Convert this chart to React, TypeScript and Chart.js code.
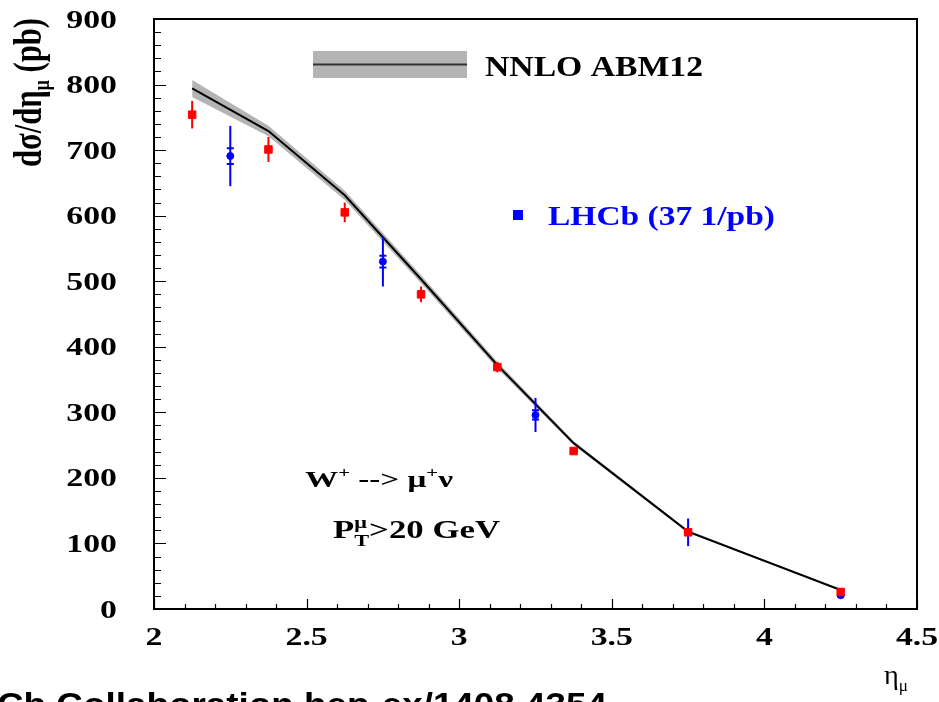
import React, { useEffect, useRef } from 'react';
import { Chart, registerables } from 'chart.js';

Chart.register(...registerables);

// ---- data ----
const theoryEta = [2.125, 2.375, 2.625, 2.875, 3.125, 3.375, 3.75, 4.25];
const theoryVal = [794, 729, 631, 503, 372, 253, 118, 29];
const theoryUnc = [13, 8, 7, 6, 5, 3, 2, 1];

const redEta = [2.125, 2.375, 2.625, 2.875, 3.125, 3.375, 3.75, 4.25];
const redVal = [754, 701, 605, 480, 369, 241, 117, 26];
const redErr = [21, 19, 15, 12, 8, 5, 5, 3];

const blueEta = [2.25, 2.75, 3.25, 3.75, 4.25];
const blueVal = [691, 530, 296, 117, 21];
const blueErrTot = [46, 38, 26, 21, 4];
const blueErrStat = [12, 9, 7, 4, 2];

const xTickValues = [2, 2.5, 3, 3.5, 4, 4.5];
const xTickLabels = ['2', '2.5', '3', '3.5', '4', '4.5'];
const yTickValues = [0, 100, 200, 300, 400, 500, 600, 700, 800, 900];
const yTickLabels = ['0', '100', '200', '300', '400', '500', '600', '700', '800', '900'];

const SERIF = "'Liberation Serif', 'Times New Roman', serif";
const SANS = "'Liberation Sans', Arial, sans-serif";

type Seg = { t: string; size: number; dy?: number; noAdvance?: boolean };

function drawRich(
  ctx: CanvasRenderingContext2D,
  segs: Seg[],
  family: string,
  weight: string,
  targetW: number,
  sy: number,
  color: string
) {
  const widths: number[] = [];
  let natural = 0;
  for (const s of segs) {
    ctx.font = `${weight} ${s.size}px ${family}`;
    const w = ctx.measureText(s.t).width;
    widths.push(w);
    if (!s.noAdvance) natural += w;
  }
  const sx = targetW / natural;
  ctx.save();
  ctx.scale(sx, sy);
  ctx.fillStyle = color;
  ctx.textAlign = 'left';
  ctx.textBaseline = 'alphabetic';
  let cx = 0;
  segs.forEach((s, i) => {
    ctx.font = `${weight} ${s.size}px ${family}`;
    ctx.fillText(s.t, cx, (s.dy || 0) / sy);
    if (!s.noAdvance) cx += widths[i];
  });
  ctx.restore();
}

function drawStretched(
  ctx: CanvasRenderingContext2D,
  s: string,
  x: number,
  y: number,
  font: string,
  sx: number,
  align: 'left' | 'center' | 'right',
  color = '#000'
) {
  ctx.save();
  ctx.font = font;
  ctx.textAlign = 'left';
  ctx.textBaseline = 'alphabetic';
  ctx.fillStyle = color;
  const w = ctx.measureText(s).width * sx;
  let x0 = x;
  if (align === 'center') x0 = x - w / 2;
  else if (align === 'right') x0 = x - w;
  ctx.translate(x0, y);
  ctx.scale(sx, 1);
  ctx.fillText(s, 0, 0);
  ctx.restore();
}

const errorBarPlugin = {
  id: 'errorBars',
  beforeDatasetDraw(chart: any, args: any) {
    const ds = chart.data.datasets[args.index];
    if (!ds.errTot) return;
    const ctx: CanvasRenderingContext2D = chart.ctx;
    const yS = chart.scales.y;
    ctx.save();
    ctx.strokeStyle = ds.borderColor;
    ctx.lineWidth = 2;
    args.meta.data.forEach((pt: any, i: number) => {
      const v = ds.data[i].y;
      const e = ds.errTot[i];
      const t = yS.getPixelForValue(v + e);
      const b = yS.getPixelForValue(v - e);
      ctx.beginPath();
      ctx.moveTo(pt.x, t);
      ctx.lineTo(pt.x, b);
      ctx.stroke();
      if (ds.errStat) {
        const s = ds.errStat[i];
        const ts = yS.getPixelForValue(v + s);
        const bs = yS.getPixelForValue(v - s);
        ctx.beginPath();
        ctx.moveTo(pt.x - 3.5, ts);
        ctx.lineTo(pt.x + 3.5, ts);
        ctx.moveTo(pt.x - 3.5, bs);
        ctx.lineTo(pt.x + 3.5, bs);
        ctx.stroke();
      }
    });
    ctx.restore();
  },
};

const decorPlugin = {
  id: 'decor',
  afterDraw(chart: any) {
    const ctx: CanvasRenderingContext2D = chart.ctx;
    const { left, right, top, bottom } = chart.chartArea;
    const xS = chart.scales.x;
    const yS = chart.scales.y;
    ctx.save();
    // frame
    ctx.strokeStyle = '#000';
    ctx.lineWidth = 2;
    ctx.strokeRect(left, top, right - left, bottom - top);
    // x ticks
    ctx.lineWidth = 1.2;
    ctx.beginPath();
    for (let k = 0; k <= 25; k++) {
      const v = 2 + k * 0.1;
      const px = Math.round(xS.getPixelForValue(v)) + 0.5;
      const len = k % 5 === 0 ? 10 : 5;
      ctx.moveTo(px, bottom);
      ctx.lineTo(px, bottom - len);
    }
    // y ticks
    for (let k = 0; k <= 45; k++) {
      const v = k * 20;
      const py = Math.round(yS.getPixelForValue(v)) + 0.5;
      const len = k % 5 === 0 ? 12 : 7;
      ctx.moveTo(left, py);
      ctx.lineTo(left + len, py);
    }
    ctx.stroke();

    // tick labels
    const tickFont = `bold 26px ${SERIF}`;
    yTickValues.forEach((v, i) => {
      drawStretched(ctx, yTickLabels[i], 117, yS.getPixelForValue(v) + 8.5, tickFont, 1.3, 'right');
    });
    xTickValues.forEach((v, i) => {
      drawStretched(ctx, xTickLabels[i], xS.getPixelForValue(v), 645, tickFont, 1.3, 'center');
    });

    // y title (rotated)
    ctx.save();
    ctx.translate(41, 167);
    ctx.rotate(-Math.PI / 2);
    drawRich(
      ctx,
      [
        { t: 'dσ/dη', size: 28 },
        { t: 'μ', size: 16, dy: 8 },
        { t: ' (pb)', size: 28 },
      ],
      SERIF,
      'bold',
      149,
      1.4,
      '#000'
    );
    ctx.restore();

    // x title
    ctx.save();
    ctx.translate(884, 684);
    drawRich(
      ctx,
      [
        { t: 'η', size: 28 },
        { t: 'μ', size: 17, dy: 7 },
      ],
      SERIF,
      'normal',
      24,
      1,
      '#000'
    );
    ctx.restore();

    // NNLO legend
    ctx.fillStyle = '#b4b4b4';
    ctx.fillRect(313, 51, 154, 27);
    ctx.strokeStyle = '#333';
    ctx.lineWidth = 2;
    ctx.beginPath();
    ctx.moveTo(313, 64.5);
    ctx.lineTo(467, 64.5);
    ctx.stroke();
    ctx.save();
    ctx.translate(485, 76);
    drawRich(ctx, [{ t: 'NNLO ABM12', size: 29 }], SERIF, 'bold', 218, 1, '#000');
    ctx.restore();

    // LHCb legend
    ctx.fillStyle = '#0000ff';
    ctx.fillRect(513, 210, 10, 10);
    ctx.save();
    ctx.translate(548, 225);
    drawRich(ctx, [{ t: 'LHCb (37 1/pb)', size: 27 }], SERIF, 'bold', 227, 1, '#0000ff');
    ctx.restore();

    // W+ annotation
    ctx.save();
    ctx.translate(305, 487);
    drawRich(
      ctx,
      [
        { t: 'W', size: 24 },
        { t: '+', size: 15, dy: -10 },
        { t: ' --> μ', size: 24 },
        { t: '+', size: 15, dy: -10 },
        { t: 'ν', size: 24 },
      ],
      SERIF,
      'bold',
      148,
      1,
      '#000'
    );
    ctx.restore();

    // PT annotation
    ctx.save();
    ctx.translate(333, 538);
    drawRich(
      ctx,
      [
        { t: 'P', size: 25 },
        { t: 'μ', size: 16, dy: -10, noAdvance: true },
        { t: 'T', size: 16, dy: 8 },
        { t: '>20 GeV', size: 25 },
      ],
      SERIF,
      'bold',
      167,
      1,
      '#000'
    );
    ctx.restore();

    // bottom credit (partly cut off)
    ctx.save();
    ctx.font = `bold 34px ${SANS}`;
    const full = 'LHCb Collaboration hep-ex/1408.4354';
    const part = 'Cb Collaboration hep-ex/1408.4354';
    const wFull = ctx.measureText(full).width;
    const wPart = ctx.measureText(part).width;
    const sx = 610 / wPart;
    ctx.translate(607 - wFull * sx, 716);
    ctx.scale(sx, 1);
    ctx.fillStyle = '#000';
    ctx.textAlign = 'left';
    ctx.fillText(full, 0, 0);
    ctx.restore();

    ctx.restore();
  },
};

export default function App() {
  const ref = useRef<HTMLCanvasElement>(null);
  useEffect(() => {
    if (!ref.current) return;
    const chart = new Chart(ref.current, {
      type: 'line',
      data: {
        datasets: [
          {
            label: 'red',
            data: redEta.map((x, i) => ({ x, y: redVal[i] })),
            showLine: false,
            pointStyle: 'rect',
            pointRadius: 5.3,
            pointBorderWidth: 1,
            backgroundColor: '#ff0000',
            borderColor: '#ff0000',
            errTot: redErr,
          } as any,
          {
            label: 'LHCb (37 1/pb)',
            data: blueEta.map((x, i) => ({ x, y: blueVal[i] })),
            showLine: false,
            pointStyle: 'circle',
            pointRadius: 3.5,
            pointBorderWidth: 1,
            backgroundColor: '#0000ff',
            borderColor: '#0000ff',
            errTot: blueErrTot,
            errStat: blueErrStat,
          } as any,
          {
            label: 'NNLO ABM12',
            data: theoryEta.map((x, i) => ({ x, y: theoryVal[i] })),
            showLine: true,
            borderColor: '#000',
            borderWidth: 2,
            pointRadius: 0,
            tension: 0,
            fill: false,
          },
          {
            label: 'upper',
            data: theoryEta.map((x, i) => ({ x, y: theoryVal[i] + theoryUnc[i] })),
            showLine: true,
            borderColor: 'rgba(0,0,0,0)',
            borderWidth: 0,
            pointRadius: 0,
            tension: 0,
            fill: false,
          },
          {
            label: 'lower',
            data: theoryEta.map((x, i) => ({ x, y: theoryVal[i] - theoryUnc[i] })),
            showLine: true,
            borderColor: 'rgba(0,0,0,0)',
            borderWidth: 0,
            pointRadius: 0,
            tension: 0,
            fill: '-1',
            backgroundColor: '#b4b4b4',
          },
        ],
      },
      options: {
        animation: false,
        responsive: true,
        maintainAspectRatio: false,
        devicePixelRatio: 1,
        layout: { padding: { left: 154, right: 22, top: 19, bottom: 93 } },
        plugins: {
          legend: { display: false },
          tooltip: { enabled: false },
        },
        scales: {
          x: { type: 'linear', min: 2, max: 4.5, display: false },
          y: { type: 'linear', min: 0, max: 900, display: false },
        },
      },
      plugins: [errorBarPlugin, decorPlugin],
    });
    return () => chart.destroy();
  }, []);
  return (
    <div style={{ position: 'fixed', left: 0, top: 0, width: 939, height: 702, background: '#fff' }}>
      <canvas ref={ref} />
    </div>
  );
}
